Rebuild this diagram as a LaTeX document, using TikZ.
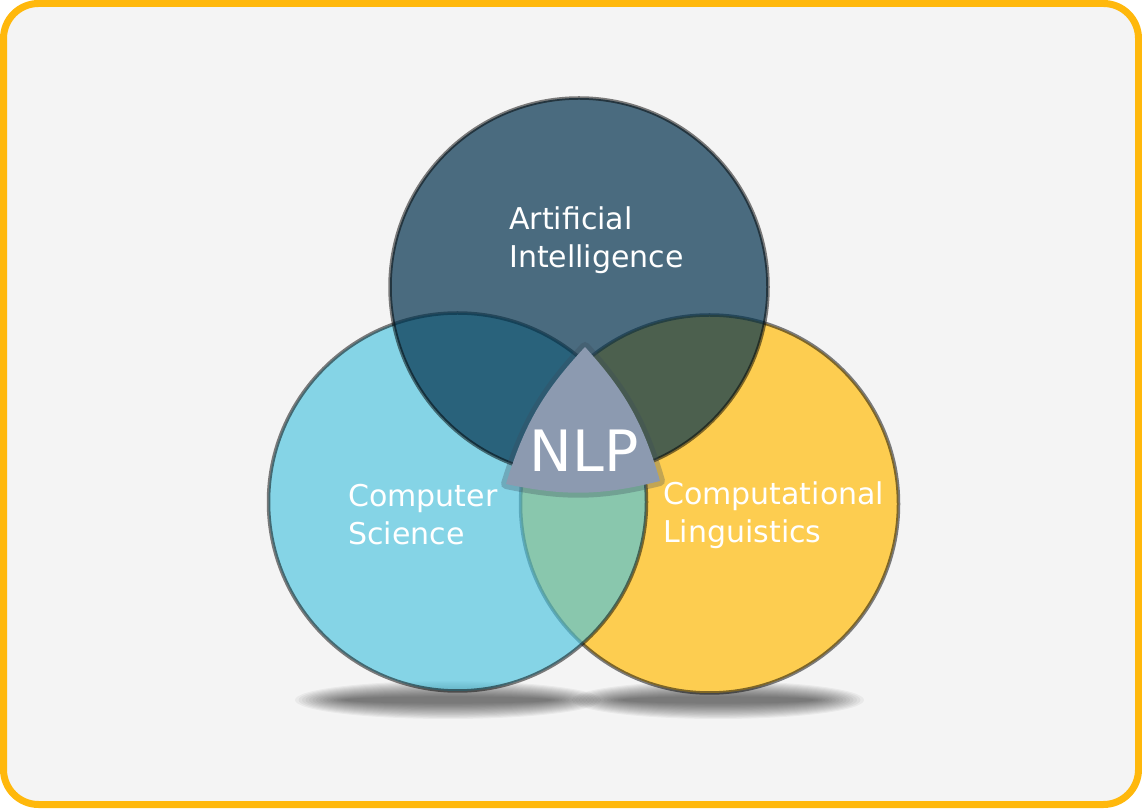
\documentclass[tikz,border=0pt]{standalone}
\usepackage{fontspec}
\setmainfont{DejaVu Sans}
\usetikzlibrary{positioning}
\definecolor{frame}{HTML}{FFB80C}
\definecolor{paper}{HTML}{F4F4F4}
\definecolor{aiblue}{HTML}{02324E}
\definecolor{csblue}{HTML}{4BC4E0}
\definecolor{clyellow}{HTML}{FDCD50}
\definecolor{nlpgrey}{HTML}{8C9AB0}
\definecolor{nlpedge}{HTML}{3A4A5A}

\begin{document}
\begin{tikzpicture}[x=1pt, y=1pt,
    field/.style={circle, minimum size=378pt, inner sep=0pt, line width=3.5pt, draw=black, draw opacity=0.5},
    fieldtext/.style={text=white, anchor=base west, align=left, inner sep=0pt, font=\fontsize{30}{38}\selectfont}]
    \useasboundingbox (0,0) rectangle (1142,808);
    \draw[frame, fill=paper, line width=7pt, rounded corners=35pt] (3.5,3.5) rectangle (1138.5,804.5);

    % shadows
    \foreach \k in {0,...,14} {
        \fill[black, opacity=0.045] (448,108) ellipse [x radius={153-3.5*\k}, y radius={19-1.1*\k}];
        \fill[black, opacity=0.045] (718,108) ellipse [x radius={146-3.5*\k}, y radius={19-1.1*\k}];
    }

    \node[field, fill=clyellow] (cl) at (709.5,304) {};
    \node[field, fill=csblue, fill opacity=0.65] (cs) at (457.5,306) {};
    \node[field, fill=aiblue, fill opacity=0.7] (ai) at (579,521) {};

    \coordinate (top) at (585,461);
    \coordinate (left) at (506,324);
    \coordinate (right) at (660,327);
    \fill[nlpgrey, preaction={draw=nlpedge, line width=10pt, draw opacity=0.3, line join=round}]
        (top) to[bend right=13] (left) to[bend right=13] (right) to[bend right=13] (top) -- cycle;

    \node[fieldtext] (aitext) at (509,540) {Artificial\\Intelligence};
    \node[fieldtext] (cstext) at (348,263) {Computer\\Science};
    \node[fieldtext] (cltext) at (663,265) {Computational\\Linguistics};
    \node[text=white, anchor=base, inner sep=0pt, font=\fontsize{57}{60}\selectfont] (nlp) at (584,336) {NLP};
\end{tikzpicture}
\end{document}
